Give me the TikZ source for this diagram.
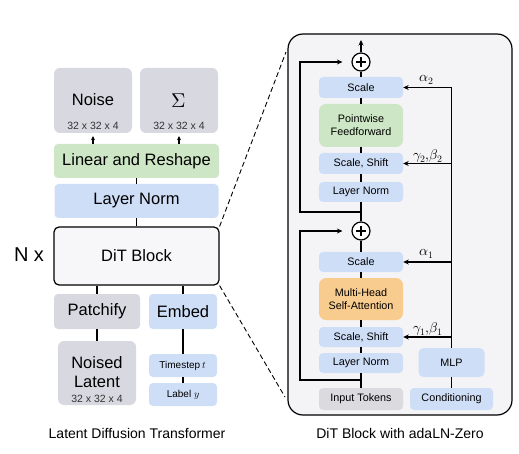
\documentclass[tikz,border=0pt]{standalone}
\usepackage{fontspec}
\usepackage{unicode-math}
\setmainfont{Liberation Sans}
\setmathfont{Latin Modern Math}
\usepackage{xcolor}
\usetikzlibrary{arrows.meta}

\definecolor{normblue}{RGB}{207,222,247}
\definecolor{latgray}{RGB}{216,216,225}
\definecolor{ffgreen}{RGB}{205,230,197}
\definecolor{attnorange}{RGB}{248,204,142}
\definecolor{panelgray}{RGB}{244,244,246}
\definecolor{tokgray}{RGB}{218,218,223}
\definecolor{ditfill}{RGB}{247,247,249}

\tikzset{
    box/.style={rounded corners=4pt, inner sep=0pt, align=center},
    bigtext/.style={font=\fontsize{16.5}{19}\selectfont},
    smalltext/.style={font=\fontsize{10.8}{12.8}\selectfont},
    dimtext/.style={font=\fontsize{10.5}{12}\selectfont, text=black!80},
    captext/.style={font=\fontsize{14}{16}\selectfont},
    mathlbl/.style={font=\fontsize{14}{16}\selectfont},
    conn/.style={line width=1.6pt},
    arr/.style={line width=1.6pt, -{Stealth[length=5.5pt, width=5pt]}},
    zoomline/.style={line width=0.9pt, dash pattern=on 5pt off 3pt},
    plus/.style={circle, draw, line width=1.2pt, fill=white, minimum size=18pt, inner sep=0pt,
        path picture={\draw[line width=1.3pt]
            ([xshift=-5pt]path picture bounding box.center) -- ([xshift=5pt]path picture bounding box.center)
            ([yshift=-5pt]path picture bounding box.center) -- ([yshift=5pt]path picture bounding box.center);}}
}

\begin{document}
\begin{tikzpicture}[x=1pt, y=-1pt]
    \useasboundingbox (0,0) rectangle (519,454);

    % Outputs
    \node[box, fill=latgray, rounded corners=6pt, minimum width=78pt, minimum height=65pt] (noise) at (93,100.5) {};
    \node[bigtext] at (93,100) {Noise};
    \node[dimtext] at (93,125.7) {32 x 32 x 4};
    \node[box, fill=latgray, rounded corners=6pt, minimum width=78pt, minimum height=65pt] (sigma) at (179,100.5) {};
    \node[font=\fontsize{20}{22}\selectfont] at (179,101) {$\Sigma$};
    \node[dimtext] at (179,125.7) {32 x 32 x 4};

    % Head
    \node[box, fill=ffgreen, bigtext, minimum width=165pt, minimum height=34pt] (linear) at (136.5,161) {Linear and Reshape};
    \node[box, fill=normblue, bigtext, minimum width=164pt, minimum height=34pt] (normL) at (136.5,201) {Layer Norm};

    % DiT block
    \node[box, draw, line width=1.2pt, fill=ditfill, rounded corners=5pt, bigtext, minimum width=165pt, minimum height=58pt] (dit) at (136.5,256) {DiT Block};
    \node[font=\fontsize{20}{22}\selectfont] (nx) at (29,255) {N x};

    % Inputs
    \node[box, fill=latgray, bigtext, minimum width=86pt, minimum height=35pt] (patchify) at (97,311.5) {Patchify};
    \node[box, fill=normblue, bigtext, minimum width=68pt, minimum height=35pt] (embed) at (183,311.5) {Embed};
    \node[box, fill=latgray, rounded corners=6pt, minimum width=78pt, minimum height=64pt] (noised) at (97,373) {};
    \node[bigtext, align=center] at (97,372.5) {Noised\\Latent};
    \node[dimtext] at (97,399) {32 x 32 x 4};
    \node[box, fill=normblue, font=\fontsize{10}{12}\selectfont, minimum width=68pt, minimum height=23pt] (timestep) at (183,365.5) {Timestep $t$};
    \node[box, fill=normblue, font=\fontsize{10}{12}\selectfont, minimum width=68pt, minimum height=23pt] (label) at (183,394.5) {Label $y$};

    \node[captext] (capL) at (137,433) {Latent Diffusion Transformer};

    % Left lines
    \draw[arr, -{Stealth[length=4pt, width=4pt]}, line width=1.2pt, shorten >=3pt] (linear.north -| noise) -- (noise.south);
    \draw[arr, -{Stealth[length=4pt, width=4pt]}, line width=1.2pt, shorten >=3pt] (linear.north -| sigma) -- (sigma.south);
    \draw[conn] (normL.north) -- (linear.south);
    \draw[conn] (dit.north) -- (normL.south);
    \draw[conn] (patchify.north) -- (patchify.north |- dit.south);
    \draw[conn] (embed.north) -- (embed.north |- dit.south);
    \draw[conn] (noised.north) -- (patchify.south);
    \draw[conn] (timestep.north) -- (embed.south);
    \draw[conn] (label.north) -- (timestep.south);

    % Block frame
    \node[draw, line width=1.2pt, fill=panelgray, rounded corners=15pt, inner sep=0pt, minimum width=224pt, minimum height=381pt] (panel) at (400,224.5) {};

    % Zoom lines
    \coordinate (zoomtop) at (286,52);
    \coordinate (zoombot) at (285,397);
    \draw[zoomline] (dit.north east) -- (zoomtop);
    \draw[zoomline] (dit.south east) -- (zoombot);

    % Block layers
    \node[plus] (plus2) at (361,62) {};
    \node[box, fill=normblue, smalltext, minimum width=84pt, minimum height=21pt] (scale2) at (361,87.5) {Scale};
    \node[box, fill=ffgreen, smalltext, rounded corners=7pt, minimum width=84pt, minimum height=43pt] (ffn) at (361,125.5) {Pointwise\\Feedforward};
    \node[box, fill=normblue, smalltext, minimum width=84pt, minimum height=21pt] (shift2) at (361,163.5) {Scale, Shift};
    \node[box, fill=normblue, smalltext, minimum width=84pt, minimum height=20pt] (norm2) at (361,192) {Layer Norm};
    \node[plus] (plus1) at (361,231) {};
    \node[box, fill=normblue, smalltext, minimum width=84pt, minimum height=20pt] (scale1) at (361,262) {Scale};
    \node[box, fill=attnorange, smalltext, rounded corners=7pt, minimum width=84pt, minimum height=42pt] (mhsa) at (361,299) {Multi-Head\\Self-Attention};
    \node[box, fill=normblue, smalltext, minimum width=84pt, minimum height=20pt] (shift1) at (361,337) {Scale, Shift};
    \node[box, fill=normblue, smalltext, minimum width=84pt, minimum height=20pt] (norm1) at (361,363) {Layer Norm};
    \node[box, fill=tokgray, smalltext, minimum width=84pt, minimum height=22pt] (tokens) at (361,399) {Input Tokens};
    \node[box, fill=normblue, smalltext, rounded corners=5pt, minimum width=66pt, minimum height=29pt] (mlp) at (451.5,362.5) {MLP};
    \node[box, fill=normblue, smalltext, minimum width=83pt, minimum height=22pt] (cond) at (451.5,399) {Conditioning};

    \node[captext] (capR) at (400,433) {DiT Block with adaLN-Zero};

    % Main stream
    \foreach \a/\b in {tokens/norm1, norm1/shift1, shift1/mhsa, mhsa/scale1, scale1/plus1, plus1/norm2, norm2/shift2, shift2/ffn, ffn/scale2, scale2/plus2}
        \draw[conn] (\a.north) -- (\b.south);
    \coordinate (out) at (361,40);
    \draw[arr] (plus2.north) -- (out);

    % Residuals
    \coordinate (res1) at (361,380);
    \coordinate (res1l) at (300,380);
    \coordinate (res2) at (361,212);
    \coordinate (res2l) at (300,212);
    \draw[arr, shorten >=9pt] (res1) -- (res1l) |- (plus1.west);
    \draw[arr, shorten >=9pt] (res2) -- (res2l) |- (plus2.west);

    % Conditioning
    \draw[conn] (cond.north) -- (mlp.south);
    \draw[arr] (mlp.north) |- (scale2.east);
    \foreach \b in {shift2, scale1, shift1}
        \draw[arr] (mlp.north |- \b.east) -- (\b.east);
    \node[mathlbl] at (427,80) {$\alpha_2$};
    \node[mathlbl] at (428,156) {$\gamma_2{,}\beta_2$};
    \node[mathlbl] at (427,254) {$\alpha_1$};
    \node[mathlbl] at (428,329) {$\gamma_1{,}\beta_1$};

\end{tikzpicture}
\end{document}
